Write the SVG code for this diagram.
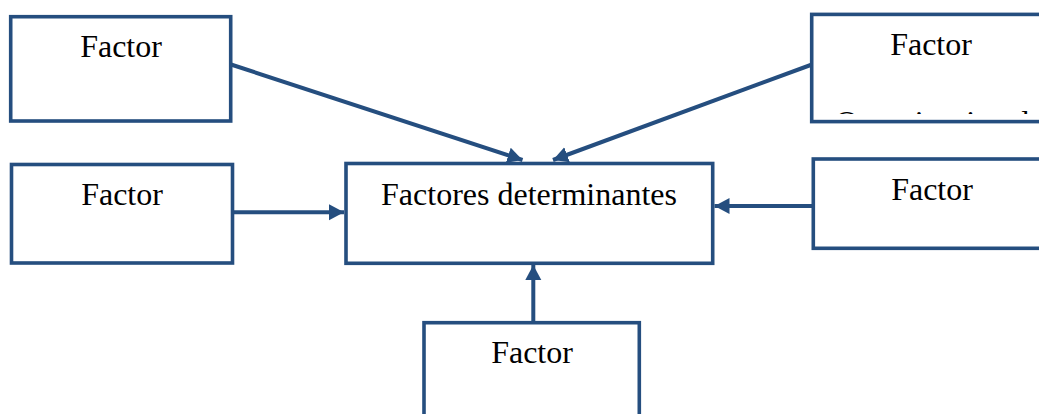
<svg xmlns="http://www.w3.org/2000/svg" width="1039" height="414" viewBox="0 0 1039 414">
  <style>
    .box { fill: #ffffff; stroke: #254E7F; stroke-width: 3.6; }
    .lbl { font-family: "Liberation Serif", "Times New Roman", serif; font-size: 32px; fill: #000000; text-anchor: middle; }
    .conn { stroke: #254E7F; stroke-width: 4; fill: none; marker-end: url(#arrow); }
  </style>
  <defs>
    <marker id="arrow" markerUnits="userSpaceOnUse" markerWidth="17" markerHeight="17" refX="15" refY="8" orient="auto">
      <path d="M0,0 L15,8 L0,16 Z" fill="#254E7F"/>
    </marker>
    <clipPath id="clipTR">
      <rect x="813.5" y="16" width="230" height="98"/>
    </clipPath>
  </defs>

  <g id="connectors">
    <line class="conn" x1="231" y1="64.5" x2="522.5" y2="160"/>
    <line class="conn" x1="812" y1="64.5" x2="553" y2="160"/>
    <line class="conn" x1="233" y1="212.3" x2="344" y2="212.3"/>
    <line class="conn" x1="812" y1="206" x2="714.5" y2="206"/>
    <line class="conn" x1="533.3" y1="321" x2="533.3" y2="265"/>
  </g>

  <g id="node-top-left">
    <rect class="box" x="10.7" y="16.7" width="220" height="104.3"/>
    <text class="lbl" x="121" y="57">Factor</text>
  </g>

  <g id="node-top-right">
    <rect class="box" x="811.7" y="14.4" width="240" height="107.2"/>
    <text class="lbl" x="931" y="55">Factor</text>
    <text class="lbl" x="932.7" y="132.5" clip-path="url(#clipTR)">Organizacional</text>
  </g>

  <g id="node-mid-left">
    <rect class="box" x="11.5" y="164.5" width="221" height="98.5"/>
    <text class="lbl" x="122" y="205">Factor</text>
  </g>

  <g id="node-center">
    <rect class="box" x="346" y="163.5" width="366.7" height="99.8"/>
    <text class="lbl" x="529" y="205">Factores determinantes</text>
  </g>

  <g id="node-mid-right">
    <rect class="box" x="813.3" y="159" width="240" height="89.3"/>
    <text class="lbl" x="932" y="200">Factor</text>
  </g>

  <g id="node-bottom">
    <rect class="box" x="424" y="322.7" width="215.3" height="110"/>
    <text class="lbl" x="532" y="363.3">Factor</text>
  </g>
</svg>
